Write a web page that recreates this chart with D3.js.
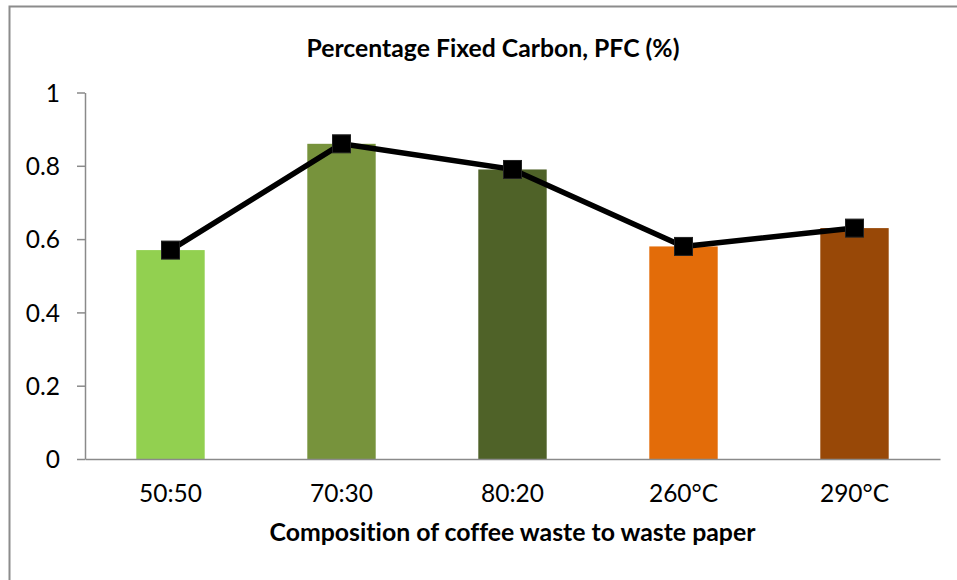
<!DOCTYPE html>
<html>
<head>
<meta charset="utf-8">
<script src="https://cdn.jsdelivr.net/npm/d3@7"></script>
<style>
  html, body { margin: 0; padding: 0; background: #fff; }
  svg { display: block; }
  text { font-family: Lato, "Open Sans", "Noto Sans", sans-serif; fill: #000; font-variant-ligatures: none; }
</style>
</head>
<body>
<svg id="chart" width="957" height="580"></svg>
<script>
// Fixed carbon percentage for each blend / torrefaction temperature
const categories = ["50:50", "70:30", "80:20", "260°C", "290°C"];
const pfcValues = [0.57, 0.86, 0.79, 0.58, 0.63];
const barColors = ["#92d050", "#77933c", "#4f6228", "#e36c09", "#984807"];
const yTicks = [0, 0.2, 0.4, 0.6, 0.8, 1];
const chartTitle = "Percentage Fixed Carbon, PFC (%)";
const xAxisTitle = "Composition of coffee waste to waste paper";

const svg = d3.select("#chart");
const W = 957, H = 580;
const plot = { left: 85, right: 940, top: 92.5, bottom: 459 };
const axisGrey = "#8a8a8a";

// Outer chart frame (top and left edges fall inside the canvas)
svg.append("path")
  .attr("d", `M9.5,${H} V6.5 H${W}`)
  .attr("fill", "none")
  .attr("stroke", "#8c8c8c")
  .attr("stroke-width", 2);

const x = d3.scaleBand()
  .domain(categories)
  .range([plot.left, plot.right])
  .paddingInner(0.6)
  .paddingOuter(0.3);

const y = d3.scaleLinear()
  .domain([0, 1])
  .range([plot.bottom, plot.top]);

// Fit a text element's font size so that it spans a given width
function fitWidth(sel, target) {
  const node = sel.node();
  const size = parseFloat(sel.attr("font-size"));
  const w = node.getComputedTextLength();
  sel.attr("font-size", (size * target / w).toFixed(2));
}

// Y axis
const yAxis = svg.append("g")
  .attr("transform", `translate(${plot.left},0)`)
  .call(d3.axisLeft(y).tickValues(yTicks).tickFormat(d3.format("~g"))
    .tickSize(8).tickSizeOuter(0).tickPadding(17));
yAxis.select(".domain").attr("stroke", axisGrey).attr("stroke-width", 1.5);
yAxis.selectAll(".tick line").attr("stroke", axisGrey).attr("stroke-width", 1.5);
yAxis.selectAll(".tick text")
  .attr("font-size", 24.5)
  .attr("font-family", null)
  .attr("dy", "0.36em");

// Bars
svg.append("g").selectAll("rect")
  .data(categories)
  .join("rect")
  .attr("x", d => x(d))
  .attr("width", x.bandwidth())
  .attr("y", (d, i) => y(pfcValues[i]))
  .attr("height", (d, i) => y(0) - y(pfcValues[i]))
  .attr("fill", (d, i) => barColors[i]);

// X axis
const xAxis = svg.append("g")
  .attr("transform", `translate(0,${plot.bottom})`)
  .call(d3.axisBottom(x).tickSize(0).tickSizeOuter(0));
xAxis.select(".domain").attr("stroke", axisGrey).attr("stroke-width", 1.5);
xAxis.selectAll(".tick text")
  .attr("font-size", 24.5)
  .attr("font-family", null)
  .attr("y", 42.5)
  .attr("dy", 0);

// Line with square markers over the bars
const cx = d => x(d) + x.bandwidth() / 2;
const line = d3.line()
  .x(d => cx(d))
  .y((d, i) => y(pfcValues[i]));

svg.append("path")
  .datum(categories)
  .attr("d", line)
  .attr("fill", "none")
  .attr("stroke", "#000")
  .attr("stroke-width", 5.5)
  .attr("stroke-linejoin", "round");

const markerSize = 18;
svg.append("g").selectAll("rect")
  .data(categories)
  .join("rect")
  .attr("x", d => cx(d) - markerSize / 2)
  .attr("y", (d, i) => y(pfcValues[i]) - markerSize / 2)
  .attr("width", markerSize)
  .attr("height", markerSize)
  .attr("fill", "#000")
  .attr("stroke", "#222")
  .attr("stroke-width", 1);

// Titles
const title = svg.append("text")
  .attr("x", 493)
  .attr("y", 56.5)
  .attr("text-anchor", "middle")
  .attr("font-weight", "bold")
  .attr("font-size", 22)
  .text(chartTitle);
fitWidth(title, 373);

const xTitle = svg.append("text")
  .attr("x", (plot.left + plot.right) / 2)
  .attr("y", 541)
  .attr("text-anchor", "middle")
  .attr("font-weight", "bold")
  .attr("font-size", 22)
  .text(xAxisTitle);
fitWidth(xTitle, 486);
</script>
</body>
</html>
